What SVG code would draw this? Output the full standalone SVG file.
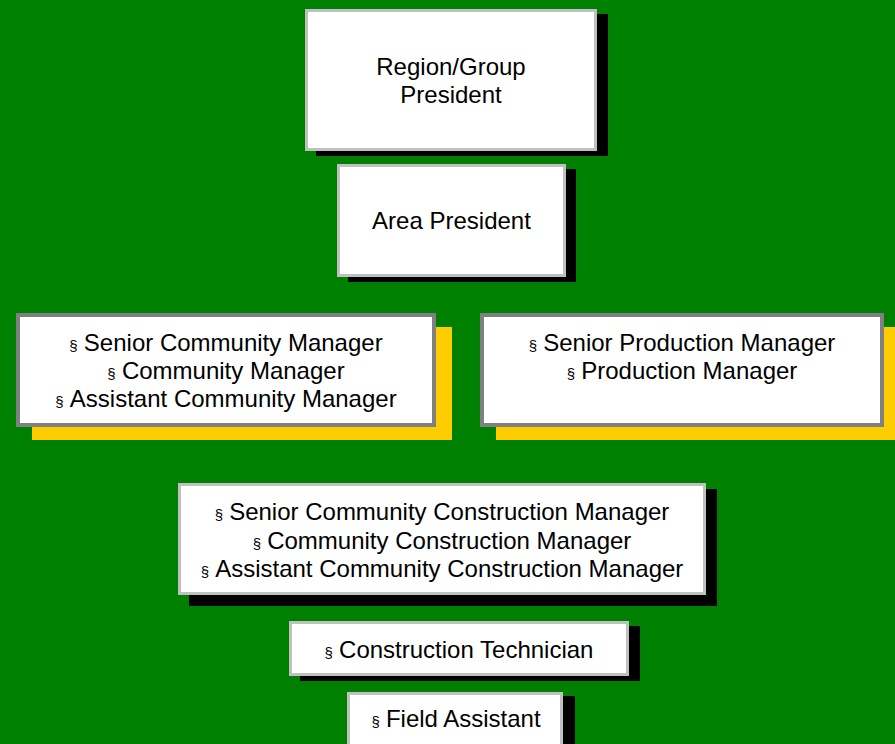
<svg xmlns="http://www.w3.org/2000/svg" width="895" height="744" viewBox="0 0 895 744">
<style>
.bg{fill:#008000}
.sh{fill:#000000}
.ysh{fill:#FFCC00}
.box{fill:#FFFFFF;stroke:#C0C0C0;stroke-width:3}
.gbox{fill:#FFFFFF;stroke:#808080;stroke-width:4}
text{font-family:"Liberation Sans",Arial,sans-serif;font-size:24px;fill:#000000;text-anchor:middle}
.b{font-size:15px}
</style>
<rect class="bg" x="0" y="0" width="895" height="744"/>
<g id="connectors"></g>
<g id="n1">
<rect class="sh" x="316" y="14" width="292" height="142"/>
<rect class="box" x="306.5" y="10.5" width="289" height="139"/>
<text x="451" y="75">Region/Group</text>
<text x="451" y="103">President</text>
</g>
<g id="n2">
<rect class="sh" x="348" y="169" width="228" height="113"/>
<rect class="box" x="338.5" y="165.5" width="226" height="110"/>
<text x="451.5" y="229">Area President</text>
</g>
<g id="n3">
<rect class="ysh" x="32" y="327" width="420" height="113"/>
<rect class="gbox" x="18" y="315" width="416" height="110"/>
<text x="226" y="351"><tspan class="b">§ </tspan><tspan dx="2">Senior Community Manager</tspan></text>
<text x="226" y="379"><tspan class="b">§ </tspan><tspan dx="2">Community Manager</tspan></text>
<text x="226" y="407"><tspan class="b">§ </tspan><tspan dx="2">Assistant Community Manager</tspan></text>
</g>
<g id="n4">
<rect class="ysh" x="496" y="327" width="404" height="113"/>
<rect class="gbox" x="482" y="315" width="400" height="110"/>
<text x="682" y="351"><tspan class="b">§ </tspan><tspan dx="2">Senior Production Manager</tspan></text>
<text x="682" y="379"><tspan class="b">§ </tspan><tspan dx="2">Production Manager</tspan></text>
</g>
<g id="n5">
<rect class="sh" x="189" y="489" width="528" height="117"/>
<rect class="box" x="179.5" y="484.5" width="525" height="109"/>
<text x="442" y="520"><tspan class="b">§ </tspan><tspan dx="2">Senior Community Construction Manager</tspan></text>
<text x="442" y="549"><tspan class="b">§ </tspan><tspan dx="2">Community Construction Manager</tspan></text>
<text x="442" y="577"><tspan class="b">§ </tspan><tspan dx="2">Assistant Community Construction Manager</tspan></text>
</g>
<g id="n6">
<rect class="sh" x="300" y="626" width="340" height="55"/>
<rect class="box" x="290.5" y="622.5" width="337" height="52"/>
<text x="459" y="658"><tspan class="b">§ </tspan><tspan dx="2">Construction Technician</tspan></text>
</g>
<g id="n7">
<rect class="sh" x="358" y="696" width="217" height="60"/>
<rect class="box" x="348.5" y="693.5" width="213" height="60"/>
<text x="456" y="727"><tspan class="b">§ </tspan><tspan dx="2">Field Assistant</tspan></text>
</g>
</svg>
